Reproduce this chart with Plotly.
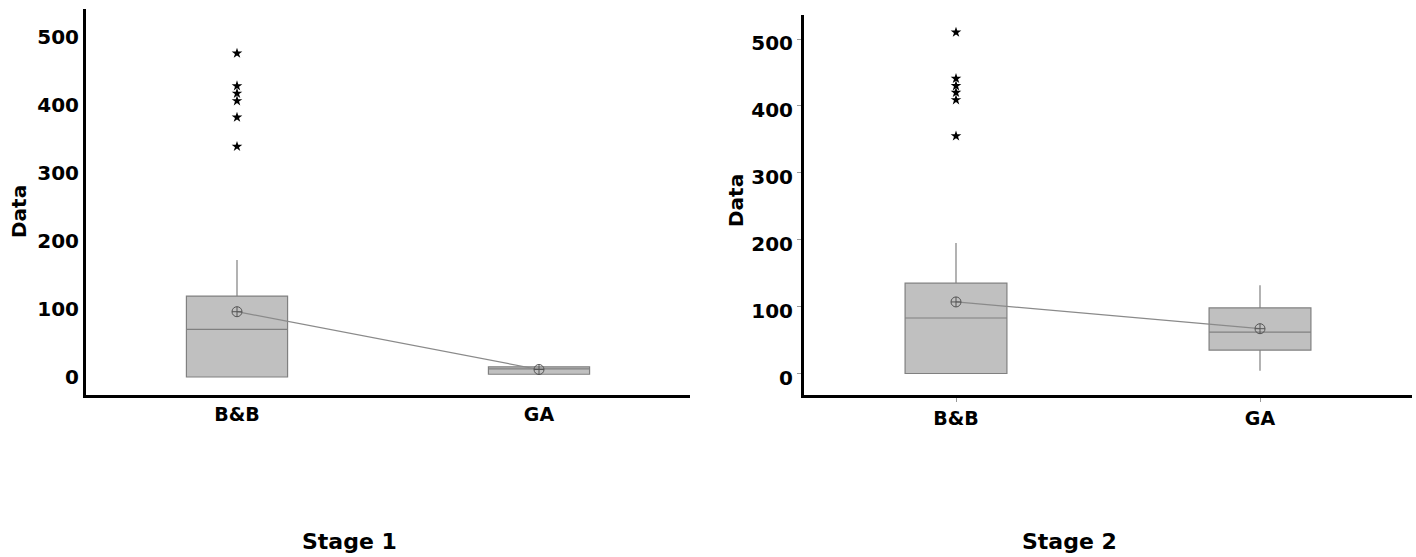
import plotly.graph_objects as go

W, H = 1416, 557

categories = ["B&B", "GA"]

# Stage 1 box statistics
s1_q1 = [0, 4]
s1_median = [70, 12]
s1_q3 = [119, 15]
s1_lower = [0, 4]
s1_upper = [172, 15]
s1_mean = [96, 11]
s1_outliers_bb = [476, 428, 417, 406, 382, 339]

# Stage 2 box statistics
s2_q1 = [0, 35]
s2_median = [83, 62]
s2_q3 = [135, 98]
s2_lower = [0, 4]
s2_upper = [195, 132]
s2_mean = [107, 67]
s2_outliers_bb = [510, 441, 430, 420, 409, 355]

y_ticks = [0, 100, 200, 300, 400, 500]

BOX_FILL = "#c0c0c0"
BOX_LINE = "#808080"
FONT = "DejaVu Sans"

fig = go.Figure()


def add_stage(q1, med, q3, lo, hi, mean, outl, xa, ya):
    fig.add_trace(go.Box(
        x=categories, q1=q1, median=med, q3=q3, lowerfence=lo, upperfence=hi,
        boxpoints=False, width=0.335, fillcolor=BOX_FILL,
        line=dict(color=BOX_LINE, width=1.2), whiskerwidth=0,
        xaxis=xa, yaxis=ya, showlegend=False, hoverinfo="skip"))
    fig.add_trace(go.Scatter(
        x=categories, y=mean, mode="lines+markers",
        line=dict(color="#8a8a8a", width=1.2),
        marker=dict(symbol="circle-cross-open", size=10, color="#555555",
                    line=dict(width=1, color="#555555")),
        xaxis=xa, yaxis=ya, showlegend=False, hoverinfo="skip"))
    fig.add_trace(go.Scatter(
        x=[categories[0]] * len(outl), y=outl, mode="markers",
        marker=dict(symbol="star", size=8, color="black"),
        xaxis=xa, yaxis=ya, showlegend=False, hoverinfo="skip"))


add_stage(s1_q1, s1_median, s1_q3, s1_lower, s1_upper, s1_mean, s1_outliers_bb, "x", "y")
add_stage(s2_q1, s2_median, s2_q3, s2_lower, s2_upper, s2_mean, s2_outliers_bb, "x2", "y2")

xcommon = dict(type="category", range=[-0.5, 1.5], showline=True, linewidth=3,
               linecolor="black", showgrid=False, zeroline=False,
               tickfont=dict(family=FONT, size=19, color="black", weight="bold"),
               automargin=False)
ycommon = dict(showline=True, linewidth=3, linecolor="black", showgrid=False,
               zeroline=False, tickvals=y_ticks,
               tickfont=dict(family=FONT, size=20, color="black", weight="bold"),
               automargin=False)

ann_font = lambda s: dict(family=FONT, size=s, color="black")

fig.update_layout(
    width=W, height=H,
    margin=dict(l=0, r=0, t=0, b=0),
    paper_bgcolor="white", plot_bgcolor="white",
    xaxis=dict(domain=[86 / W, 690 / W], anchor="y", ticks="", **xcommon),
    xaxis2=dict(domain=[804 / W, 1412 / W], anchor="y2", ticks="outside",
                ticklen=4, tickcolor="#999999", tickwidth=1, **xcommon),
    yaxis=dict(domain=[(H - 395) / H, (H - 9) / H], anchor="x",
               range=[-26.5, 541.2], ticks="", **ycommon),
    yaxis2=dict(domain=[(H - 395) / H, (H - 15) / H], anchor="x2",
                range=[-32.1, 535.9], ticks="outside", ticklen=4,
                tickcolor="#999999", tickwidth=1, ticklabelshift=4, **ycommon),
    showlegend=False,
    annotations=[
        dict(text="<b>Data</b>", x=19 / W, y=1 - 212 / H, xref="paper", yref="paper",
             xanchor="center", yanchor="middle",
             textangle=-90, showarrow=False, font=ann_font(20)),
        dict(text="<b>Data</b>", x=736 / W, y=1 - 201 / H, xref="paper", yref="paper",
             xanchor="center", yanchor="middle",
             textangle=-90, showarrow=False, font=ann_font(20)),
        dict(text="<b>Stage 1</b>", x=349 / W, y=1 - 541 / H, xref="paper", yref="paper",
             xanchor="center", yanchor="middle", showarrow=False, font=ann_font(22)),
        dict(text="<b>Stage 2</b>", x=1069 / W, y=1 - 541 / H, xref="paper", yref="paper",
             xanchor="center", yanchor="middle", showarrow=False, font=ann_font(22)),
    ],
)

fig.write_html("out.html", config={"displayModeBar": False},
               post_script="document.body.style.margin='0px';document.body.style.overflow='hidden';")
